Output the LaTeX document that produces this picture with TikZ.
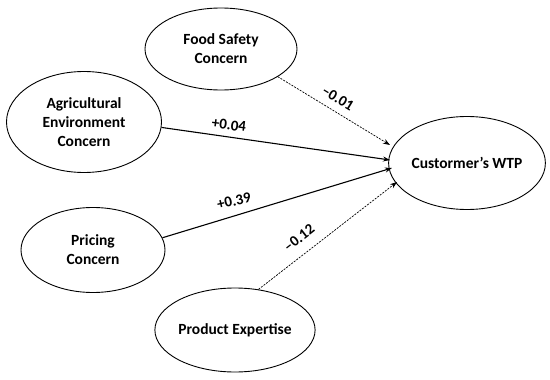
\documentclass[tikz,border=0pt]{standalone}
\usepackage{fontspec}
\setmainfont{Carlito}
\usetikzlibrary{shapes.geometric,arrows.meta}
\begin{document}
\begin{tikzpicture}[x=1pt,y=-1pt,
  construct/.style={ellipse,draw,line width=0.9pt,inner sep=0pt,align=center,
     font=\fontsize{15.5}{19}\selectfont\bfseries},
  path/.style={line width=1.1pt,-{Stealth[length=7pt,width=5pt]}},
  weak/.style={path,line width=0.7pt,dash pattern=on 2pt off 1.2pt},
  coef/.style={font=\fontsize{15}{18}\selectfont\bfseries,inner sep=1pt}]
\useasboundingbox (0,0) rectangle (550,380);
\node[construct,minimum width=152pt,minimum height=82pt] (fs) at (221,49) {Food Safety\\Concern};
\node[construct,minimum width=155pt,minimum height=101pt] (ae) at (84,122) {Agricultural\\Environment\\Concern};
\node[construct,minimum width=144pt,minimum height=85pt] (pc) at (93,250) {Pricing\\Concern};
\node[construct,minimum width=160pt,minimum height=84pt] (pe) at (235,330) {Product Expertise};
\node[construct,minimum width=151pt,minimum height=93pt] (wtp) at (467,163) {Custormer’s WTP};
\coordinate (t1) at (390,145);
\coordinate (t2) at (390,160);
\coordinate (t3) at (392,168);
\coordinate (t4) at (397,182);
\draw[weak] (fs.-26) -- (t1);
\draw[path] (ae.-4) -- (t2);
\draw[path] (pc.10) -- (t3);
\draw[weak] (pe.60) -- (t4);
\node[coef,rotate=-31] (l1) at (338,98) {–0.01};
\node[coef,rotate=-7] (l2) at (229,125) {+0.04};
\node[coef,rotate=13] (l3) at (234,201) {+0.39};
\node[coef,rotate=38] (l4) at (299,238) {–0.12};
\end{tikzpicture}
\end{document}
